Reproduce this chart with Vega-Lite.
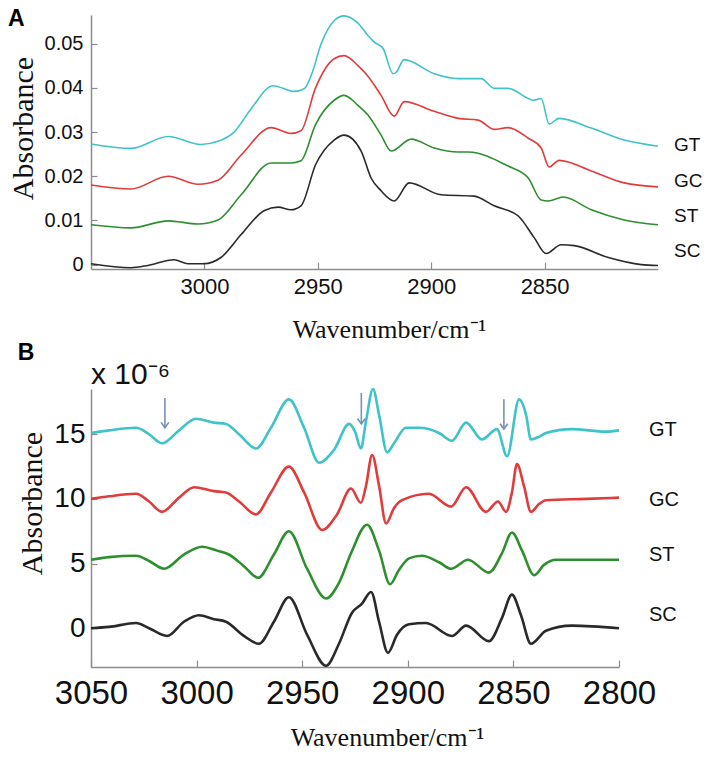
{
  "$schema": "https://vega.github.io/schema/vega-lite/v6.json",
  "background": "white",
  "padding": {"left": 8, "top": 7, "right": 5, "bottom": 5},
  "spacing": 0,
  "config": {
    "view": {"stroke": null},
    "font": "Liberation Sans",
    "axis": {
      "domainColor": "#8c8c8c", "domainWidth": 1.5, "tickColor": "#8c8c8c", "tickWidth": 1.2,
      "grid": false, "labelColor": "#111", "titleColor": "#111", "labelFont": "Liberation Sans",
      "titleFont": "Liberation Serif", "titleFontWeight": "normal", "labelOverlap": false, "labelFlush": false
    }
  },
  "datasets": {
    "a": [
      {"s":"GT","w":3050,"v":0.0273},{"s":"GT","w":3032.4,"v":0.0263},{"s":"GT","w":3016.0,"v":0.029},{"s":"GT","w":3001.5,"v":0.0272},{"s":"GT","w":2994.0,"v":0.0279},{"s":"GT","w":2986.9,"v":0.030},{"s":"GT","w":2979.4,"v":0.0353},{"s":"GT","w":2969.7,"v":0.0405},{"s":"GT","w":2960.5,"v":0.0392},{"s":"GT","w":2956.0,"v":0.0398},{"s":"GT","w":2952.8,"v":0.043},{"s":"GT","w":2948.5,"v":0.050},{"s":"GT","w":2942.8,"v":0.0552},{"s":"GT","w":2938.4,"v":0.0563},{"s":"GT","w":2932.2,"v":0.0546},{"s":"GT","w":2927.8,"v":0.0518},{"s":"GT","w":2925.2,"v":0.0504},{"s":"GT","w":2921.2,"v":0.0489},{"s":"GT","w":2916.8,"v":0.0432},{"s":"GT","w":2915.5,"v":0.0435},{"s":"GT","w":2911.9,"v":0.0464},{"s":"GT","w":2898.7,"v":0.0432},{"s":"GT","w":2888.1,"v":0.0421},{"s":"GT","w":2878.0,"v":0.0421},{"s":"GT","w":2872.2,"v":0.0399},{"s":"GT","w":2866.1,"v":0.0399},{"s":"GT","w":2854.6,"v":0.0372},{"s":"GT","w":2851.5,"v":0.0376},{"s":"GT","w":2848.0,"v":0.0318},{"s":"GT","w":2843.6,"v":0.0331},{"s":"GT","w":2829.4,"v":0.0309},{"s":"GT","w":2814.9,"v":0.0282},{"s":"GT","w":2800,"v":0.0268},
      {"s":"GC","w":3050,"v":0.018},{"s":"GC","w":3032.4,"v":0.0171},{"s":"GC","w":3016.0,"v":0.020},{"s":"GC","w":3002.8,"v":0.0182},{"s":"GC","w":2994.0,"v":0.0191},{"s":"GC","w":2983.8,"v":0.0248},{"s":"GC","w":2970.6,"v":0.031},{"s":"GC","w":2961.8,"v":0.0297},{"s":"GC","w":2957.4,"v":0.0303},{"s":"GC","w":2951.0,"v":0.040},{"s":"GC","w":2942.8,"v":0.0466},{"s":"GC","w":2938.4,"v":0.0473},{"s":"GC","w":2932.2,"v":0.045},{"s":"GC","w":2927.8,"v":0.0426},{"s":"GC","w":2922.1,"v":0.0383},{"s":"GC","w":2916.3,"v":0.0336},{"s":"GC","w":2911.9,"v":0.0369},{"s":"GC","w":2898.7,"v":0.0347},{"s":"GC","w":2888.1,"v":0.0331},{"s":"GC","w":2879.3,"v":0.0327},{"s":"GC","w":2872.2,"v":0.0306},{"s":"GC","w":2866.1,"v":0.031},{"s":"GC","w":2857.2,"v":0.0286},{"s":"GC","w":2851.5,"v":0.0264},{"s":"GC","w":2848.0,"v":0.0221},{"s":"GC","w":2843.6,"v":0.0236},{"s":"GC","w":2829.4,"v":0.0212},{"s":"GC","w":2814.9,"v":0.0185},{"s":"GC","w":2800,"v":0.0176},
      {"s":"ST","w":3050,"v":0.009},{"s":"ST","w":3032.4,"v":0.0083},{"s":"ST","w":3016.0,"v":0.0099},{"s":"ST","w":3002.8,"v":0.0092},{"s":"ST","w":2994.0,"v":0.0101},{"s":"ST","w":2983.8,"v":0.0158},{"s":"ST","w":2970.6,"v":0.023},{"s":"ST","w":2961.8,"v":0.023},{"s":"ST","w":2957.4,"v":0.0235},{"s":"ST","w":2951.0,"v":0.0317},{"s":"ST","w":2942.8,"v":0.0372},{"s":"ST","w":2938.4,"v":0.0383},{"s":"ST","w":2932.2,"v":0.036},{"s":"ST","w":2927.8,"v":0.0338},{"s":"ST","w":2922.1,"v":0.0293},{"s":"ST","w":2917.7,"v":0.0257},{"s":"ST","w":2908.8,"v":0.0284},{"s":"ST","w":2898.7,"v":0.0264},{"s":"ST","w":2888.1,"v":0.0255},{"s":"ST","w":2883.7,"v":0.0255},{"s":"ST","w":2866.1,"v":0.0223},{"s":"ST","w":2857.2,"v":0.0196},{"s":"ST","w":2851.5,"v":0.0146},{"s":"ST","w":2848.4,"v":0.0144},{"s":"ST","w":2841.8,"v":0.0153},{"s":"ST","w":2829.4,"v":0.0124},{"s":"ST","w":2814.9,"v":0.0101},{"s":"ST","w":2800,"v":0.009},
      {"s":"SC","w":3050,"v":0.0002},{"s":"SC","w":3032.4,"v":-0.0007},{"s":"SC","w":3024.9,"v":-0.0002},{"s":"SC","w":3013.4,"v":0.0011},{"s":"SC","w":3007.2,"v":0.0002},{"s":"SC","w":3000.2,"v":0.0002},{"s":"SC","w":2992.7,"v":0.0016},{"s":"SC","w":2983.8,"v":0.0068},{"s":"SC","w":2973.7,"v":0.0122},{"s":"SC","w":2967.5,"v":0.013},{"s":"SC","w":2961.8,"v":0.0124},{"s":"SC","w":2957.4,"v":0.0133},{"s":"SC","w":2951.0,"v":0.0226},{"s":"SC","w":2942.8,"v":0.0282},{"s":"SC","w":2938.4,"v":0.0293},{"s":"SC","w":2930.9,"v":0.0257},{"s":"SC","w":2926.5,"v":0.0196},{"s":"SC","w":2922.1,"v":0.0167},{"s":"SC","w":2916.3,"v":0.0144},{"s":"SC","w":2909.7,"v":0.0185},{"s":"SC","w":2895.6,"v":0.0158},{"s":"SC","w":2881.1,"v":0.0155},{"s":"SC","w":2872.2,"v":0.0133},{"s":"SC","w":2861.6,"v":0.011},{"s":"SC","w":2854.6,"v":0.0061},{"s":"SC","w":2849.3,"v":0.0025},{"s":"SC","w":2842.7,"v":0.0045},{"s":"SC","w":2836.9,"v":0.0043},{"s":"SC","w":2821.9,"v":0.0016},{"s":"SC","w":2807.4,"v":0.0},{"s":"SC","w":2800,"v":-0.0002}
    ],
    "b": [
      {"s":"GT","w":3050.0,"v":15.1},{"s":"GT","w":3041.5,"v":15.3},{"s":"GT","w":3028.7,"v":15.5},{"s":"GT","w":3022.5,"v":15.0},{"s":"GT","w":3016.4,"v":14.3},{"s":"GT","w":3008.3,"v":15.3},{"s":"GT","w":3000.3,"v":16.2},{"s":"GT","w":2991.8,"v":15.9},{"s":"GT","w":2986.1,"v":15.8},{"s":"GT","w":2979.9,"v":15.0},{"s":"GT","w":2971.9,"v":13.9},{"s":"GT","w":2964.8,"v":15.5},{"s":"GT","w":2956.3,"v":17.7},{"s":"GT","w":2949.1,"v":15.5},{"s":"GT","w":2942.0,"v":12.8},{"s":"GT","w":2934.9,"v":13.8},{"s":"GT","w":2927.8,"v":15.8},{"s":"GT","w":2925.0,"v":15.2},{"s":"GT","w":2922.2,"v":13.9},{"s":"GT","w":2919.8,"v":16.0},{"s":"GT","w":2916.5,"v":18.5},{"s":"GT","w":2913.6,"v":16.5},{"s":"GT","w":2909.8,"v":13.6},{"s":"GT","w":2906.5,"v":14.3},{"s":"GT","w":2900.9,"v":15.5},{"s":"GT","w":2894.7,"v":15.5},{"s":"GT","w":2885.2,"v":15.1},{"s":"GT","w":2879.1,"v":14.5},{"s":"GT","w":2872.4,"v":15.9},{"s":"GT","w":2864.9,"v":14.6},{"s":"GT","w":2857.8,"v":15.4},{"s":"GT","w":2853.0,"v":13.3},{"s":"GT","w":2847.3,"v":17.7},{"s":"GT","w":2844.0,"v":16.5},{"s":"GT","w":2841.7,"v":14.6},{"s":"GT","w":2837.9,"v":14.8},{"s":"GT","w":2834.6,"v":15.1},{"s":"GT","w":2822.3,"v":15.4},{"s":"GT","w":2806.2,"v":15.2},{"s":"GT","w":2800.0,"v":15.3},
      {"s":"GC","w":3050.0,"v":10.0},{"s":"GC","w":3041.5,"v":10.2},{"s":"GC","w":3028.7,"v":10.4},{"s":"GC","w":3022.5,"v":9.8},{"s":"GC","w":3016.4,"v":9.0},{"s":"GC","w":3008.3,"v":10.1},{"s":"GC","w":3001.2,"v":10.9},{"s":"GC","w":2991.8,"v":10.6},{"s":"GC","w":2986.1,"v":10.5},{"s":"GC","w":2979.9,"v":9.8},{"s":"GC","w":2971.9,"v":8.8},{"s":"GC","w":2964.8,"v":10.5},{"s":"GC","w":2956.3,"v":12.5},{"s":"GC","w":2949.1,"v":10.5},{"s":"GC","w":2940.6,"v":7.6},{"s":"GC","w":2933.5,"v":8.8},{"s":"GC","w":2926.9,"v":10.8},{"s":"GC","w":2922.2,"v":9.7},{"s":"GC","w":2919.8,"v":11.0},{"s":"GC","w":2916.9,"v":13.4},{"s":"GC","w":2913.6,"v":11.0},{"s":"GC","w":2910.3,"v":8.1},{"s":"GC","w":2906.5,"v":9.3},{"s":"GC","w":2902.7,"v":9.9},{"s":"GC","w":2890.0,"v":10.4},{"s":"GC","w":2879.5,"v":9.4},{"s":"GC","w":2872.4,"v":10.9},{"s":"GC","w":2863.0,"v":9.0},{"s":"GC","w":2857.3,"v":9.8},{"s":"GC","w":2853.5,"v":9.0},{"s":"GC","w":2850.7,"v":10.5},{"s":"GC","w":2848.3,"v":12.7},{"s":"GC","w":2845.0,"v":11.0},{"s":"GC","w":2841.7,"v":9.0},{"s":"GC","w":2837.9,"v":9.6},{"s":"GC","w":2834.6,"v":9.9},{"s":"GC","w":2815.6,"v":10.0},{"s":"GC","w":2800.0,"v":10.1},
      {"s":"ST","w":3050.0,"v":5.3},{"s":"ST","w":3041.5,"v":5.5},{"s":"ST","w":3028.7,"v":5.6},{"s":"ST","w":3022.5,"v":5.2},{"s":"ST","w":3015.4,"v":4.6},{"s":"ST","w":3006.0,"v":5.7},{"s":"ST","w":2997.4,"v":6.3},{"s":"ST","w":2990.3,"v":6.0},{"s":"ST","w":2984.7,"v":5.7},{"s":"ST","w":2977.6,"v":4.8},{"s":"ST","w":2970.9,"v":3.9},{"s":"ST","w":2963.4,"v":5.7},{"s":"ST","w":2956.3,"v":7.5},{"s":"ST","w":2947.7,"v":4.6},{"s":"ST","w":2938.7,"v":2.3},{"s":"ST","w":2932.6,"v":3.5},{"s":"ST","w":2926.9,"v":5.8},{"s":"ST","w":2919.3,"v":8.0},{"s":"ST","w":2913.6,"v":6.0},{"s":"ST","w":2908.4,"v":3.4},{"s":"ST","w":2904.2,"v":4.5},{"s":"ST","w":2899.4,"v":5.4},{"s":"ST","w":2893.3,"v":5.6},{"s":"ST","w":2885.2,"v":5.1},{"s":"ST","w":2879.5,"v":4.6},{"s":"ST","w":2871.5,"v":5.3},{"s":"ST","w":2861.6,"v":4.3},{"s":"ST","w":2855.4,"v":5.8},{"s":"ST","w":2850.7,"v":7.4},{"s":"ST","w":2845.9,"v":6.0},{"s":"ST","w":2840.2,"v":4.1},{"s":"ST","w":2835.5,"v":4.9},{"s":"ST","w":2829.8,"v":5.3},{"s":"ST","w":2814.2,"v":5.3},{"s":"ST","w":2800.0,"v":5.3},
      {"s":"SC","w":3050.0,"v":0.0},{"s":"SC","w":3041.5,"v":0.1},{"s":"SC","w":3028.7,"v":0.4},{"s":"SC","w":3022.5,"v":0.0},{"s":"SC","w":3014.0,"v":-0.6},{"s":"SC","w":3006.0,"v":0.5},{"s":"SC","w":2998.9,"v":1.0},{"s":"SC","w":2991.8,"v":0.7},{"s":"SC","w":2986.1,"v":0.5},{"s":"SC","w":2977.6,"v":-0.6},{"s":"SC","w":2970.5,"v":-1.2},{"s":"SC","w":2963.4,"v":0.5},{"s":"SC","w":2956.3,"v":2.4},{"s":"SC","w":2947.7,"v":-0.5},{"s":"SC","w":2938.7,"v":-2.9},{"s":"SC","w":2932.6,"v":-1.2},{"s":"SC","w":2926.4,"v":1.2},{"s":"SC","w":2921.7,"v":1.9},{"s":"SC","w":2917.4,"v":2.8},{"s":"SC","w":2913.6,"v":0.5},{"s":"SC","w":2909.4,"v":-1.9},{"s":"SC","w":2905.1,"v":-0.5},{"s":"SC","w":2899.4,"v":0.3},{"s":"SC","w":2891.4,"v":0.4},{"s":"SC","w":2879.1,"v":-0.6},{"s":"SC","w":2872.4,"v":0.2},{"s":"SC","w":2861.6,"v":-1.0},{"s":"SC","w":2855.4,"v":0.8},{"s":"SC","w":2850.7,"v":2.6},{"s":"SC","w":2846.4,"v":1.0},{"s":"SC","w":2841.7,"v":-1.2},{"s":"SC","w":2834.6,"v":-0.2},{"s":"SC","w":2822.3,"v":0.2},{"s":"SC","w":2800.0,"v":0.0}
    ],
    "la": [
      {"s":"GT","w":2800,"v":0.0271},{"s":"GC","w":2800,"v":0.0189},{"s":"ST","w":2800,"v":0.011},{"s":"SC","w":2800,"v":0.0031}
    ],
    "lb": [
      {"s":"GT","w":2800,"v":15.3},{"s":"GC","w":2800,"v":9.9},{"s":"ST","w":2800,"v":5.7},{"s":"SC","w":2800,"v":1.0}
    ],
    "arr": [
      {"w":3015,"top":17.8,"tip":15.5},{"w":2922,"top":18.2,"tip":15.8},{"w":2854.5,"top":17.7,"tip":15.4}
    ],
    "mult": [{"w":3050,"v":18.5,"t":"x 10⁻⁶"}]
  },
  "vconcat": [
    {
      "width": 567,
      "height": 254,
      "title": {"text": "A", "anchor": "start", "frame": "bounds", "fontSize": 23, "fontWeight": "bold", "font": "Liberation Sans", "color": "#000", "dy": 18, "offset": 0},
      "layer": [
        {
          "data": {"name": "a"},
          "mark": {"type": "line", "strokeWidth": 1.6, "interpolate": "monotone"},
          "encoding": {
            "x": {"field": "w", "type": "quantitative", "scale": {"domain": [2800, 3050], "reverse": true, "nice": false, "zero": false},
              "axis": {"values": [3000, 2950, 2900, 2850], "title": "Wavenumber/cm⁻¹", "titleFontSize": 26, "titleX": 298, "labelFontSize": 22, "tickSize": -7, "labelPadding": 14, "titlePadding": 19, "format": "d"}},
            "y": {"field": "v", "type": "quantitative", "scale": {"domain": [-0.001, 0.0565], "nice": false, "zero": false},
              "axis": {"values": [0, 0.01, 0.02, 0.03, 0.04, 0.05], "labelExpr": "datum.value == 0 ? '0' : format(datum.value, '.2f')", "title": "Absorbance", "titleY": 113, "titleFontSize": 30, "labelFontSize": 20, "tickSize": -6, "labelPadding": 14, "titlePadding": 6}},
            "color": {"field": "s", "type": "nominal", "scale": {"domain": ["GT", "GC", "ST", "SC"], "range": ["#3fc2c9", "#e03c3c", "#2f8f2f", "#2a2a2a"]}, "legend": null}
          }
        },
        {
          "data": {"name": "la"},
          "mark": {"type": "text", "align": "left", "baseline": "middle", "dx": 16, "fontSize": 19, "color": "#111"},
          "encoding": {
            "x": {"field": "w", "type": "quantitative"},
            "y": {"field": "v", "type": "quantitative"},
            "text": {"field": "s"}
          }
        }
      ]
    },
    {
      "width": 528,
      "height": 278,
      "title": {"text": "B", "anchor": "start", "frame": "bounds", "fontSize": 23, "fontWeight": "bold", "font": "Liberation Sans", "color": "#000", "dy": 5, "offset": 0},
      "layer": [
        {
          "data": {"name": "b"},
          "mark": {"type": "line", "strokeWidth": 2.6, "interpolate": "monotone"},
          "encoding": {
            "x": {"field": "w", "type": "quantitative", "scale": {"domain": [2800, 3050], "reverse": true, "nice": false, "zero": false},
              "axis": {"values": [3050, 3000, 2950, 2900, 2850, 2800], "title": "Wavenumber/cm⁻¹", "titleFontSize": 26, "titleX": 296, "labelFontSize": 33, "tickSize": -7, "labelPadding": 17, "titlePadding": 14, "format": "d"}},
            "y": {"field": "v", "type": "quantitative", "scale": {"domain": [-3, 18.5], "nice": false, "zero": false},
              "axis": {"values": [0, 5, 10, 15], "title": "Absorbance", "titleY": 114, "titleFontSize": 30, "labelFontSize": 28, "tickSize": -6, "labelPadding": 12, "titlePadding": 6}},
            "color": {"field": "s", "type": "nominal", "scale": {"domain": ["GT", "GC", "ST", "SC"], "range": ["#3fc2c9", "#e03c3c", "#2f8f2f", "#111111"]}, "legend": null}
          }
        },
        {
          "data": {"name": "arr"},
          "mark": {"type": "rule", "color": "#7690b8", "strokeWidth": 1.6},
          "encoding": {
            "x": {"field": "w", "type": "quantitative"},
            "y": {"field": "top", "type": "quantitative"},
            "y2": {"field": "tip"}
          }
        },
        {
          "data": {"name": "arr"},
          "mark": {"type": "point", "shape": "M -1 -1.4 L 0 0 L 1 -1.4", "filled": false, "color": "#7690b8", "strokeWidth": 1.6, "size": 60, "opacity": 1},
          "encoding": {
            "x": {"field": "w", "type": "quantitative"},
            "y": {"field": "tip", "type": "quantitative"}
          }
        },
        {
          "data": {"name": "lb"},
          "mark": {"type": "text", "align": "left", "baseline": "middle", "dx": 30, "fontSize": 20, "color": "#111"},
          "encoding": {
            "x": {"field": "w", "type": "quantitative"},
            "y": {"field": "v", "type": "quantitative"},
            "text": {"field": "s"}
          }
        },
        {
          "data": {"name": "mult"},
          "mark": {"type": "text", "align": "left", "baseline": "alphabetic", "dx": 0, "dy": -5, "fontSize": 30, "color": "#111"},
          "encoding": {
            "x": {"field": "w", "type": "quantitative"},
            "y": {"field": "v", "type": "quantitative"},
            "text": {"field": "t"}
          }
        }
      ]
    }
  ]
}
